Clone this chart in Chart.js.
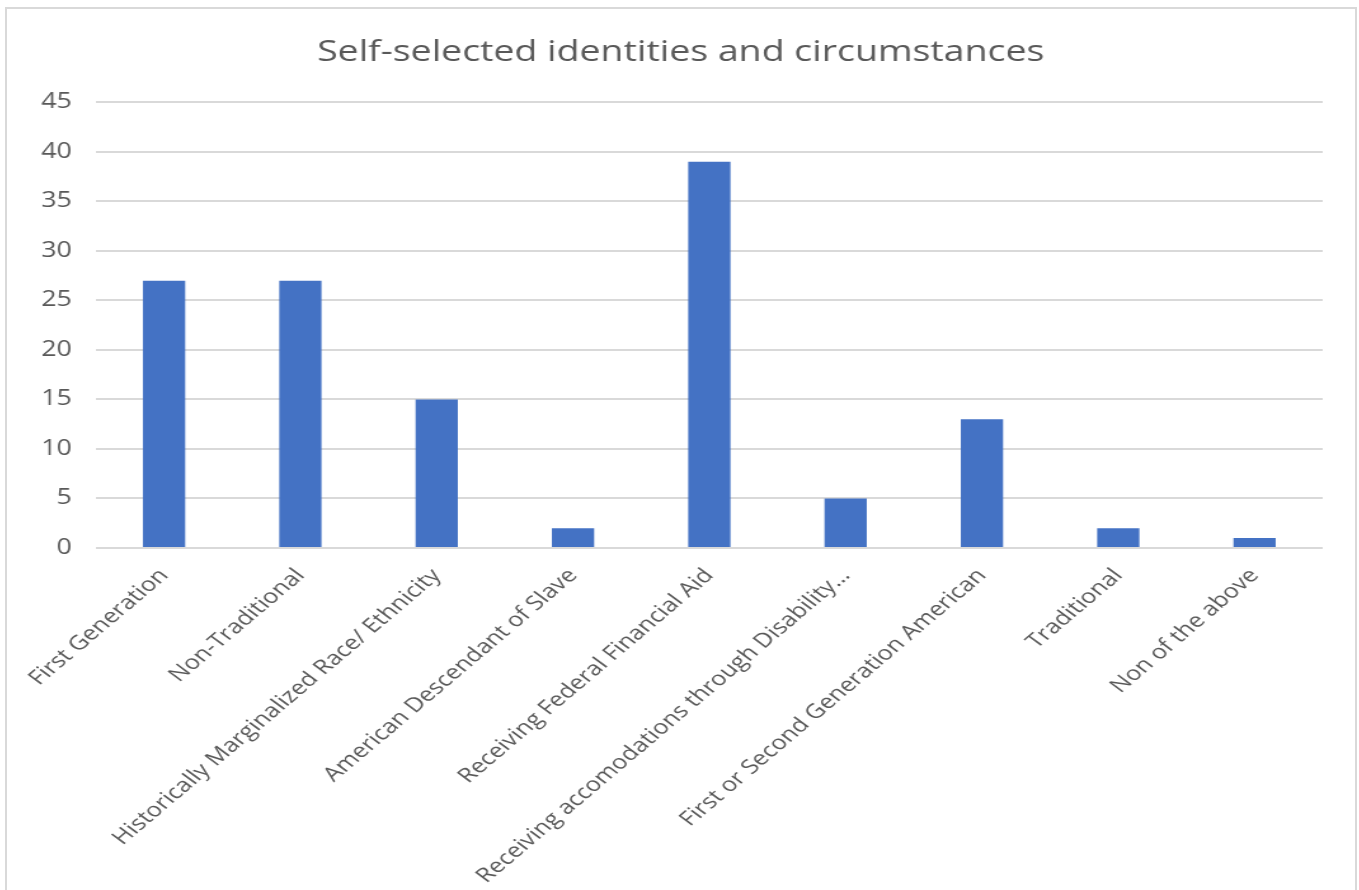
<!DOCTYPE html>
<html>
<head>
<meta charset="utf-8">
<script src="https://cdn.jsdelivr.net/npm/chart.js@4"></script>
<style>
  html, body { margin: 0; padding: 0; background: #fff; overflow: hidden; }
  #frame {
    position: absolute;
    left: 5px;
    top: 7px;
    width: 1352px;
    height: 1000px;
    border: 2px solid #d9d9d9;
    box-sizing: border-box;
    overflow: hidden;
  }
  /* the original picture is stretched sideways, so the canvas is too */
  #myChart { display: block; transform: scaleX(1.27); transform-origin: 0 0; }
</style>
</head>
<body>
<div id="frame">
  <canvas id="myChart" width="1061" height="881"></canvas>
</div>
<script>
const categories = [
  'First Generation',
  'Non-Traditional',
  'Historically Marginalized Race/ Ethnicity',
  'American Descendant of Slave',
  'Receiving Federal Financial Aid',
  'Receiving accomodations through Disability…',
  'First or Second Generation American',
  'Traditional',
  'Non of the above'
];
const counts = [27, 27, 15, 2, 39, 5, 13, 2, 1];
const yTicks = [0, 5, 10, 15, 20, 25, 30, 35, 40, 45];

const textColor = '#595959';
const fontFamily = "'Segoe UI', 'Open Sans', 'Noto Sans', sans-serif";

function renderChart() {
    const ctx = document.getElementById('myChart');

    new Chart(ctx, {
        type: 'bar',
        data: {
            labels: categories,
            datasets: [{
                label: 'Count',
                data: counts,
                backgroundColor: '#4472c4',
                borderWidth: 0,
                categoryPercentage: 1,
                barPercentage: 0.31
            }]
        },
        options: {
            responsive: false,
            animation: false,
            layout: { padding: { left: 25, right: 25, top: 0, bottom: 0 } },
            plugins: {
                legend: { display: false },
                tooltip: { enabled: false },
                title: {
                    display: true,
                    text: 'Self-selected identities and circumstances',
                    color: textColor,
                    font: { family: fontFamily, size: 29.5, weight: 'normal' },
                    padding: { top: 26, bottom: 32 }
                }
            },
            scales: {
                x: {
                    grid: { display: false, drawTicks: false },
                    border: { display: false },
                    ticks: {
                        color: textColor,
                        font: { family: fontFamily, size: 20 },
                        minRotation: 47,
                        maxRotation: 47,
                        autoSkip: false,
                        padding: 16
                    },
                    afterFit: (scale) => {
                        scale.height = 881 - 539;
                        // let the long rotated labels hang past the left edge like the original
                        scale.paddingLeft = 0;
                        scale.paddingRight = 0;
                    }
                },
                y: {
                    min: 0,
                    max: 45,
                    afterBuildTicks: (scale) => { scale.ticks = yTicks.map(v => ({ value: v })); },
                    grid: { color: '#d9d9d9', lineWidth: 2, drawTicks: false },
                    border: { display: false },
                    ticks: {
                        color: textColor,
                        font: { family: fontFamily, size: 21 },
                        padding: 19
                    },
                    afterFit: (scale) => { scale.width = 45; }
                }
            }
        }
    });
}

renderChart();
</script>
</body>
</html>
